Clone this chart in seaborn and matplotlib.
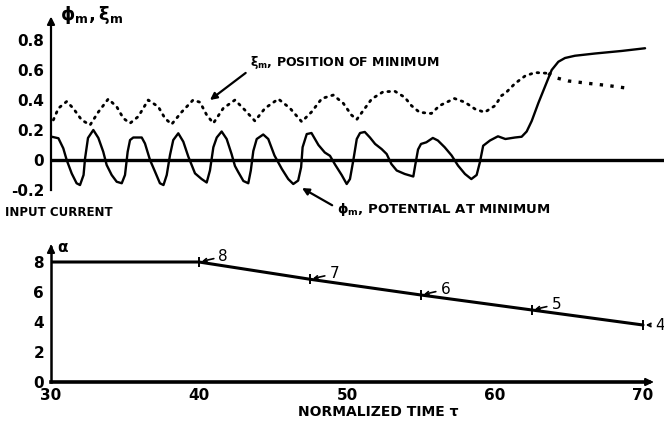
import matplotlib
matplotlib.use("Agg")
import matplotlib.pyplot as plt
import seaborn as sns
import pandas as pd

# ---------------- data ----------------
tau_phi = [30.05, 30.5, 30.83, 31.06, 31.4, 31.73, 31.96, 32.2, 32.3, 32.5, 32.86, 33.2, 33.53, 33.76,
           34.1, 34.44, 34.78, 35.0, 35.18, 35.34, 35.56, 36.13, 36.35, 36.69, 37.03, 37.36, 37.6, 37.82,
           38.04, 38.26, 38.6, 38.94, 39.28, 39.73, 40.18, 40.52, 40.74, 40.97, 41.2, 41.53, 41.87, 42.2,
           42.43, 42.65, 43.0, 43.33, 43.5, 43.67, 43.9, 44.34, 44.68, 45.1, 45.6, 46.03, 46.37, 46.7,
           46.9, 47.0, 47.28, 47.6, 48.07, 48.5, 48.85, 49.19, 49.64, 49.98, 50.2, 50.43, 50.66, 50.88,
           51.2, 51.55, 51.9, 52.34, 52.68, 53.0, 53.36, 53.9, 54.48, 54.6, 54.8, 55.0, 55.36, 55.8,
           56.14, 56.6, 57.07, 57.5, 57.97, 58.4, 58.76, 58.98, 59.2, 59.66, 60.2, 60.7, 61.35, 61.8,
           62.14, 62.48, 62.93, 63.38, 63.83, 64.28, 64.73, 65.4, 66.76, 68.56, 70.14]
phi = [0.155, 0.145, 0.078, 0.0, -0.09, -0.155, -0.167, -0.1, 0.01, 0.147, 0.2, 0.147, 0.055, -0.033,
       -0.1, -0.145, -0.155, -0.1, 0.055, 0.133, 0.15, 0.15, 0.11, 0.0, -0.078, -0.155, -0.167, -0.1,
       0.033, 0.133, 0.178, 0.122, 0.022, -0.089, -0.127, -0.15, -0.07, 0.085, 0.15, 0.19, 0.14, 0.04,
       -0.04, -0.08, -0.14, -0.155, -0.07, 0.06, 0.14, 0.17, 0.14, 0.03, -0.06, -0.127, -0.16, -0.137,
       -0.048, 0.085, 0.173, 0.18, 0.1, 0.05, 0.028, -0.03, -0.1, -0.16, -0.127, 0.0, 0.14, 0.18,
       0.187, 0.15, 0.107, 0.073, 0.04, -0.027, -0.07, -0.093, -0.11, -0.04, 0.07, 0.107, 0.118, 0.147,
       0.13, 0.085, 0.03, -0.037, -0.093, -0.127, -0.1, -0.015, 0.095, 0.13, 0.158, 0.14, 0.15, 0.155,
       0.19, 0.26, 0.38, 0.49, 0.6, 0.655, 0.68, 0.695, 0.71, 0.727, 0.745]

tau_xi = [30.16, 30.5, 31.06, 31.5, 32.07, 32.64, 33.2, 33.87, 34.44, 34.89, 35.34, 35.9, 36.57, 37.25,
          37.7, 38.15, 38.83, 39.6, 40.07, 40.52, 40.97, 41.64, 42.43, 43.1, 43.78, 44.46, 45.36, 46.15,
          46.94, 47.6, 48.3, 49.07, 49.75, 50.3, 50.66, 51.1, 51.67, 52.45, 53.24, 53.9, 54.36, 54.9,
          55.7, 56.25, 57.26, 57.97, 58.65, 59.3, 60.0, 60.45, 60.7, 61.35, 62.03, 62.7, 63.6]
xi = [0.267, 0.345, 0.39, 0.345, 0.267, 0.233, 0.32, 0.407, 0.355, 0.278, 0.245, 0.29, 0.4, 0.355,
      0.278, 0.238, 0.32, 0.4, 0.385, 0.3, 0.245, 0.345, 0.4, 0.333, 0.26, 0.345, 0.407, 0.345,
      0.255, 0.32, 0.41, 0.433, 0.378, 0.3, 0.27, 0.33, 0.407, 0.455, 0.458, 0.418, 0.362, 0.318,
      0.31, 0.362, 0.41, 0.385, 0.34, 0.318, 0.362, 0.43, 0.445, 0.51, 0.56, 0.583, 0.578]
tau_xi_tail = [63.6, 64.05, 64.95, 66.3, 67.66, 69.0]
xi_tail = [0.578, 0.55, 0.527, 0.511, 0.496, 0.478]

tau_alpha = [30, 40, 47.5, 55, 62.5, 70]
alpha = [8.0, 8.0, 6.85, 5.8, 4.8, 3.8]
alpha_step_labels = ["8", "7", "6", "5", "4"]   # labels at tau_alpha[1:]

top_yticks = [-0.2, 0.0, 0.2, 0.4, 0.6, 0.8]
top_yticklabels = ["-0.2", "0", "0.2", "0.4", "0.6", "0.8"]
bot_yticks = [0, 2, 4, 6, 8]
bot_yticklabels = ["0", "2", "4", "6", "8"]
xticks_major = [30, 40, 50, 60, 70]
xticks_minor = [35, 45, 55, 65]

# ---------------- style ----------------
sns.set_theme(style="white")
plt.rcParams["font.family"] = ["DejaVu Sans"]
plt.rcParams["mathtext.fontset"] = "dejavusans"
plt.rcParams["mathtext.default"] = "regular"
plt.rcParams["font.weight"] = "bold"
for k in ("text.color", "axes.labelcolor", "xtick.color", "ytick.color", "axes.edgecolor"):
    plt.rcParams[k] = "black"

W, H = 664, 423
fig = plt.figure(figsize=(W / 100, H / 100), dpi=100)
fig.patch.set_facecolor("white")

XMAX = 30 + 613 / 14.8
ax_t = fig.add_axes([51 / W, 1 - 195 / H, 613 / W, 185 / H])
ax_b = fig.add_axes([51 / W, 1 - 389.5 / H, 613 / W, 150 / H])
for ax in (ax_t, ax_b):
    ax.set_facecolor("none")
    ax.set_xlim(30, XMAX)
    for s in ("top", "right"):
        ax.spines[s].set_visible(False)
    ax.grid(False)

ax_t.set_ylim(-0.2333, 1.0)
ax_b.set_ylim(-0.5, 9.5)

arrow_kw = dict(arrowstyle="-|>", color="black", lw=1.5, mutation_scale=11)

# ---------------- top panel ----------------
ax_t.axhline(0, color="black", lw=2.4, zorder=1)
df_phi = pd.DataFrame({"tau": tau_phi, "val": phi})
df_xi = pd.DataFrame({"tau": tau_xi, "val": xi})
df_tail = pd.DataFrame({"tau": tau_xi_tail, "val": xi_tail})
sns.lineplot(data=df_phi, x="tau", y="val", ax=ax_t, color="black", lw=1.7,
             estimator=None, sort=False)
l = sns.lineplot(data=df_xi, x="tau", y="val", ax=ax_t, color="black", lw=2.0,
                 estimator=None, sort=False).lines[-1]
l.set_linestyle((0, (0.6, 2.0)))
l.set_dash_capstyle("round")
l2 = sns.lineplot(data=df_tail, x="tau", y="val", ax=ax_t, color="black", lw=2.4,
                  estimator=None, sort=False).lines[-1]
l2.set_linestyle((0, (1.0, 2.2)))

ax_t.spines["bottom"].set_visible(False)
ax_t.spines["left"].set_bounds(-0.2, 0.93)
ax_t.spines["left"].set_linewidth(1.6)
ax_t.annotate("", xy=(30, 0.975), xytext=(30, 0.9), arrowprops=arrow_kw, annotation_clip=False)
ax_t.set_xticks([])
ax_t.set_yticks(top_yticks)
ax_t.set_yticklabels(top_yticklabels)
ax_t.tick_params(axis="y", direction="in", length=5, width=1.5, labelsize=11, pad=5, colors="black")
ax_t.set_xlabel("")
ax_t.set_ylabel("")
ax_t.text(30.6, 0.965, r"$\phi_m, \xi_m$", fontsize=13, ha="left", va="center")

ax_t.annotate(r"$\xi_m$, POSITION OF MINIMUM", xy=(40.74, 0.40), xytext=(43.45, 0.648),
              fontsize=9, ha="left", va="center",
              arrowprops=dict(arrowstyle="-|>", color="black", lw=1.6, mutation_scale=10,
                              shrinkA=1, shrinkB=0, relpos=(0.0, 0.1)))
ax_t.annotate(r"$\phi_m$, POTENTIAL AT MINIMUM", xy=(46.96, -0.187), xytext=(49.3, -0.33),
              fontsize=9.5, ha="left", va="center", annotation_clip=False,
              arrowprops=dict(arrowstyle="-|>", color="black", lw=1.6, mutation_scale=10,
                              shrinkA=1, shrinkB=0, relpos=(0.0, 0.6)))

# ---------------- bottom panel ----------------
df_a = pd.DataFrame({"tau": tau_alpha, "alpha": alpha})
sns.lineplot(data=df_a, x="tau", y="alpha", ax=ax_b, color="black", lw=2.2,
             estimator=None, sort=False)
sns.scatterplot(data=df_a.iloc[1:], x="tau", y="alpha", ax=ax_b, color="black",
                marker="|", s=60, linewidth=1.4, zorder=5)
n_lab = len(alpha_step_labels)
for i, (t, a, lab) in enumerate(zip(tau_alpha[1:], alpha[1:], alpha_step_labels)):
    off = (14, 4) if i < n_lab - 1 else (9, 0)
    ax_b.annotate(lab, xy=(t, a), xytext=off, textcoords="offset points",
                  fontsize=11, fontweight="normal", ha="left", va="center",
                  annotation_clip=False,
                  arrowprops=dict(arrowstyle="->", color="black", lw=1.2,
                                  shrinkA=1, shrinkB=2, mutation_scale=6))

ax_b.spines["left"].set_bounds(0, 9.0)
ax_b.spines["left"].set_linewidth(1.8)
ax_b.spines["bottom"].set_position(("data", 0))
ax_b.spines["bottom"].set_bounds(30, 70.4)
ax_b.spines["bottom"].set_linewidth(2.6)
ax_b.annotate("", xy=(30, 9.35), xytext=(30, 8.8), arrowprops=arrow_kw, annotation_clip=False)
ax_b.annotate("", xy=(70.9, 0), xytext=(70.3, 0), arrowprops=arrow_kw, annotation_clip=False)

ax_b.set_yticks(bot_yticks)
ax_b.set_yticklabels(bot_yticklabels)
ax_b.set_xticks(xticks_major)
ax_b.set_xticklabels([str(v) for v in xticks_major])
ax_b.set_xticks(xticks_minor, minor=True)
ax_b.tick_params(axis="y", direction="in", length=5, width=1.5, labelsize=11, pad=5, colors="black")
ax_b.tick_params(axis="x", which="major", direction="in", length=7, width=1.5, labelsize=11,
                 pad=4, colors="black")
ax_b.tick_params(axis="x", which="minor", direction="in", length=4, width=1.3, colors="black")
ax_b.set_xlabel("")
ax_b.set_ylabel("")
ax_b.text(30.45, 9.0, "α", fontsize=11, ha="left", va="center")

fig.text(5 / W, 1 - 213 / H, "INPUT CURRENT", fontsize=8.5, ha="left", va="center")
fig.text(378 / W, 1 - 412 / H, "NORMALIZED TIME τ", fontsize=10, ha="center", va="center")

fig.savefig("out.png", dpi=100, facecolor="white")
